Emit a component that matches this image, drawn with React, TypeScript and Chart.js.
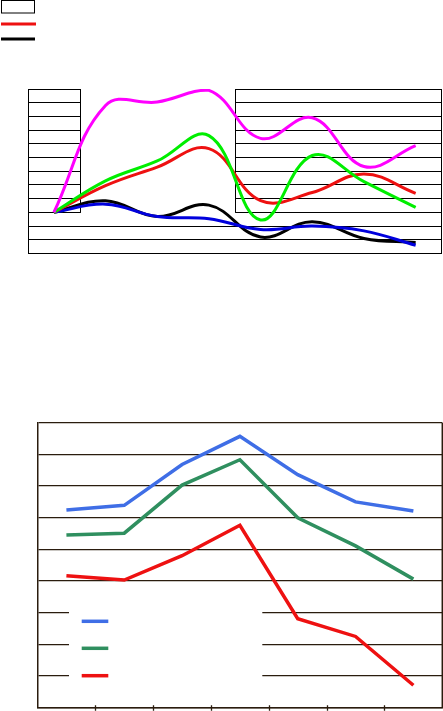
import React, { useEffect, useRef } from 'react';
import { Chart, registerables } from 'chart.js';

Chart.register(...registerables);

// ---------- Top chart data ----------
const topCategories = ['1', '2', '3', '4', '5', '6', '7', '8'];
const topMagenta = [0, 78, 80.5, 89, 54, 69, 33.5, 48.7];
const topGreen = [0, 23, 37.5, 56, -5.5, 41.5, 22.4, 3.6];
const topRed = [0, 19.5, 33, 46.5, 8.5, 14.5, 28, 13.9];
const topBlack = [0, 8.5, -3, 5.3, -18, -6.8, -19, -22];
const topBlue = [0, 6, -3, -4.6, -12.5, -10, -13.5, -24];
const topYMin = -30;
const topYMax = 90;
const topYStep = 10;

// ---------- Bottom chart data ----------
const bottomCategories = ['1', '2', '3', '4', '5', '6', '7'];
const bottomBlue = [62.4, 63.9, 76.8, 85.7, 73.6, 65.0, 62.1];
const bottomGreen = [54.5, 55.1, 70.3, 78.3, 60.0, 51.1, 40.6];
const bottomRed = [41.7, 40.3, 48.0, 57.6, 28.1, 22.5, 7.1];
const bottomYMin = 0;
const bottomYMax = 90;
const bottomYStep = 10;

const TOP_W = 443;
const TOP_H = 260;
const BOT_W = 443;
const BOT_H = 311;

const topDecor = {
  id: 'topDecor',
  beforeDatasetsDraw(chart: any) {
    const { ctx, chartArea: a, scales } = chart;
    const xs = scales.x;
    const ys = scales.y;
    const x1 = Math.round(xs.getPixelForValue(0.5)) + 0.5;
    const x2 = Math.round(xs.getPixelForValue(3.5)) + 0.5;
    const y0 = ys.getPixelForValue(0);
    ctx.save();
    ctx.fillStyle = '#ffffff';
    ctx.fillRect(x1, a.top - 2, x2 - x1, y0 - a.top + 3);
    ctx.strokeStyle = '#000000';
    ctx.lineWidth = 1;
    ctx.beginPath();
    ctx.moveTo(x1, a.top);
    ctx.lineTo(x1, y0 + 0.5);
    ctx.moveTo(x2, a.top);
    ctx.lineTo(x2, y0 + 0.5);
    const r = Math.round(a.right) - 0.5;
    ctx.moveTo(r, a.top);
    ctx.lineTo(r, a.bottom);
    ctx.stroke();
    ctx.restore();
  },
  afterDraw(chart: any) {
    const { ctx } = chart;
    const ds = chart.data.datasets;
    ctx.save();
    // first legend symbol: white box
    ctx.fillStyle = '#ffffff';
    ctx.fillRect(1.5, 0.5, 33, 12.5);
    ctx.strokeStyle = '#000000';
    ctx.lineWidth = 1;
    ctx.strokeRect(1.5, 0.5, 33, 12.5);
    // red and black series symbols
    ctx.lineWidth = 3;
    ctx.lineCap = 'butt';
    ctx.strokeStyle = ds[2].borderColor;
    ctx.beginPath();
    ctx.moveTo(1, 24);
    ctx.lineTo(36, 24);
    ctx.stroke();
    ctx.strokeStyle = ds[4].borderColor;
    ctx.beginPath();
    ctx.moveTo(1, 39);
    ctx.lineTo(35, 39);
    ctx.stroke();
    ctx.restore();
  },
};

const bottomDecor = {
  id: 'bottomDecor',
  beforeDatasetsDraw(chart: any) {
    const { ctx, chartArea: a, scales } = chart;
    const xs = scales.x;
    ctx.save();
    ctx.strokeStyle = '#2a1c0e';
    ctx.lineWidth = 1.5;
    ctx.beginPath();
    ctx.moveTo(a.right, a.top);
    ctx.lineTo(a.right, a.bottom);
    ctx.stroke();
    ctx.lineWidth = 1.3;
    ctx.beginPath();
    for (let i = 0; i < bottomCategories.length - 1; i++) {
      const px = Math.round(xs.getPixelForValue(i + 0.5)) + 0.5;
      ctx.moveTo(px, a.bottom - 2.5);
      ctx.lineTo(px, a.bottom + 3);
    }
    ctx.stroke();
    ctx.restore();
  },
  afterDatasetsDraw(chart: any) {
    const { ctx } = chart;
    const ds = chart.data.datasets;
    ctx.save();
    ctx.fillStyle = '#ffffff';
    ctx.fillRect(69, 197, 193.3, 96);
    ctx.lineWidth = 3.5;
    ctx.lineCap = 'butt';
    const ys = [221.3, 248.3, 275.7];
    for (let i = 0; i < 3; i++) {
      ctx.strokeStyle = ds[i].borderColor;
      ctx.beginPath();
      ctx.moveTo(81.7, ys[i]);
      ctx.lineTo(108.3, ys[i]);
      ctx.stroke();
    }
    ctx.restore();
  },
};

function TopChart() {
  const ref = useRef<HTMLCanvasElement>(null);
  useEffect(() => {
    if (!ref.current) return;
    const lineDs = (data: number[], color: string) => ({
      data,
      borderColor: color,
      backgroundColor: color,
      borderWidth: 3,
      pointRadius: 0,
      tension: 0.4,
      fill: false,
    });
    const chart = new Chart(ref.current, {
      type: 'line',
      data: {
        labels: topCategories,
        datasets: [
          lineDs(topMagenta, '#ff00ff'),
          lineDs(topGreen, '#00ee00'),
          lineDs(topRed, '#ee1111'),
          lineDs(topBlue, '#0000dd'),
          lineDs(topBlack, '#000000'),
        ],
      },
      options: {
        responsive: false,
        animation: false,
        layout: { padding: { left: 28, top: 89, right: 1.5, bottom: 6.5 } },
        plugins: { legend: { display: false }, tooltip: { enabled: false } },
        scales: {
          x: {
            type: 'category',
            offset: true,
            grid: { display: false, drawTicks: false },
            border: { display: true, color: '#000000', width: 1 },
            ticks: { display: false },
          },
          y: {
            min: topYMin,
            max: topYMax,
            ticks: { display: false, stepSize: topYStep },
            grid: { display: true, color: '#000000', lineWidth: 1, drawTicks: false },
            border: { display: true, color: '#000000', width: 1 },
          },
        },
      },
      plugins: [topDecor],
    });
    return () => chart.destroy();
  }, []);
  return (
    <canvas
      ref={ref}
      width={TOP_W}
      height={TOP_H}
      style={{ position: 'absolute', left: 0, top: 0, width: TOP_W, height: TOP_H }}
    />
  );
}

function BottomChart() {
  const ref = useRef<HTMLCanvasElement>(null);
  useEffect(() => {
    if (!ref.current) return;
    const lineDs = (data: number[], color: string) => ({
      data,
      borderColor: color,
      backgroundColor: color,
      borderWidth: 3.5,
      pointRadius: 0,
      tension: 0,
      fill: false,
    });
    const chart = new Chart(ref.current, {
      type: 'line',
      data: {
        labels: bottomCategories,
        datasets: [
          lineDs(bottomBlue, '#3f6ee6'),
          lineDs(bottomGreen, '#2f8f5f'),
          lineDs(bottomRed, '#ee1111'),
        ],
      },
      options: {
        responsive: false,
        animation: false,
        layout: { padding: { left: 37.5, top: 22.7, right: 0.7, bottom: 3.3 } },
        plugins: { legend: { display: false }, tooltip: { enabled: false } },
        scales: {
          x: {
            type: 'category',
            offset: true,
            grid: { display: false, drawTicks: false },
            border: { display: true, color: '#2a1c0e', width: 1.5 },
            ticks: { display: false },
          },
          y: {
            min: bottomYMin,
            max: bottomYMax,
            ticks: { display: false, stepSize: bottomYStep },
            grid: { display: true, color: '#2a1c0e', lineWidth: 1.3, drawTicks: false },
            border: { display: true, color: '#2a1c0e', width: 1.5 },
          },
        },
      },
      plugins: [bottomDecor],
    });
    return () => chart.destroy();
  }, []);
  return (
    <canvas
      ref={ref}
      width={BOT_W}
      height={BOT_H}
      style={{ position: 'absolute', left: 0, top: 400, width: BOT_W, height: BOT_H }}
    />
  );
}

export default function App() {
  return (
    <div
      style={{
        position: 'absolute',
        left: 0,
        top: 0,
        width: 443,
        height: 711,
        background: '#ffffff',
        overflow: 'hidden',
      }}
    >
      <TopChart />
      <BottomChart />
    </div>
  );
}
